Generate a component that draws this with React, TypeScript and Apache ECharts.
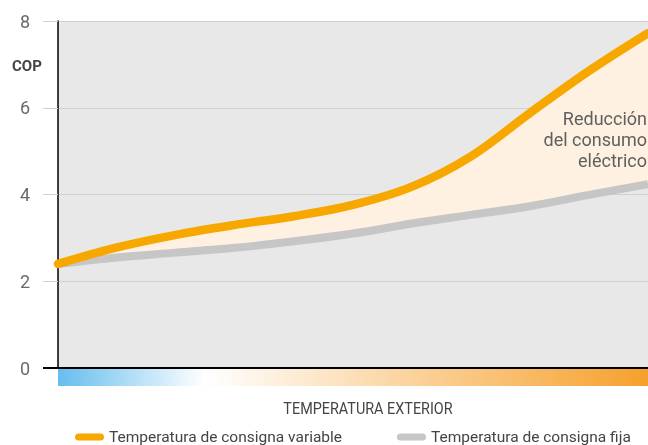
import React, { useEffect, useRef } from "react";
import * as echarts from "echarts";

// outdoor temperature steps (unlabelled, evenly spaced along the axis)
const tempSteps = ["T0", "T1", "T2", "T3", "T4", "T5", "T6", "T7", "T8", "T9", "T10"];
const variableCOP = [2.4, 2.78, 3.07, 3.3, 3.5, 3.76, 4.18, 4.88, 5.88, 6.85, 7.72];
const fixedCOP = [2.4, 2.55, 2.66, 2.77, 2.92, 3.1, 3.33, 3.53, 3.73, 3.99, 4.24];
const yTicks = { min: 0, max: 8, interval: 2 };
const seriesNames = ["Temperatura de consigna variable", "Temperatura de consigna fija"];
const yTitle = "COP";
const xTitle = "TEMPERATURA EXTERIOR";
const annotation = "Reducción\ndel consumo\neléctrico";

const FONT = "Roboto, 'Noto Sans', sans-serif";
const pill = "path://M3.5,0 H25.5 A3.5,3.5 0 0 1 25.5,7 H3.5 A3.5,3.5 0 0 1 3.5,0 Z";
const SMOOTH = 0.35;

export default function App() {
  const ref = useRef<HTMLDivElement>(null);
  useEffect(() => {
    if (!ref.current) return;
    const chart = echarts.init(ref.current, undefined, { renderer: "svg" });
    const diff = variableCOP.map((v, i) => Math.max(0, v - fixedCOP[i]));
    const legendBase = {
      top: 429,
      padding: 0,
      itemWidth: 29,
      itemHeight: 7,
      itemGap: 5,
      icon: pill,
      textStyle: { color: "#444", fontSize: 15.5, fontFamily: FONT },
    };
    chart.setOption({
      animation: false,
      textStyle: { fontFamily: FONT },
      grid: {
        left: 58,
        right: 0,
        top: 21,
        bottom: 77,
        show: true,
        backgroundColor: "#e8e8e8",
        borderWidth: 0,
      },
      xAxis: {
        type: "category",
        data: tempSteps,
        boundaryGap: false,
        axisLine: { show: true, lineStyle: { color: "#000", width: 2 } },
        axisTick: { show: false },
        axisLabel: { show: false },
        splitLine: { show: false },
      },
      yAxis: {
        type: "value",
        min: yTicks.min,
        max: yTicks.max,
        interval: yTicks.interval,
        axisLine: { show: true, lineStyle: { color: "#000", width: 1.5 } },
        axisTick: { show: true, length: 15, lineStyle: { color: "#d0d0d0", width: 1 } },
        axisLabel: { color: "#6a6a6a", fontSize: 18, margin: 28, fontFamily: FONT },
        splitLine: { show: true, lineStyle: { color: "#d0d0d0", width: 1 } },
      },
      legend: [
        { ...legendBase, data: [seriesNames[0]], left: 75 },
        { ...legendBase, data: [seriesNames[1]], left: 397 },
      ],
      series: [
        {
          name: "base",
          type: "line",
          data: fixedCOP,
          stack: "fill",
          smooth: SMOOTH,
          symbol: "none",
          lineStyle: { width: 0, opacity: 0 },
          silent: true,
          z: 1,
        },
        {
          name: "diff",
          type: "line",
          data: diff,
          stack: "fill",
          smooth: SMOOTH,
          symbol: "none",
          lineStyle: { width: 0, opacity: 0 },
          areaStyle: { color: "#fef1e1", opacity: 1 },
          silent: true,
          z: 1,
        },
        {
          name: seriesNames[1],
          type: "line",
          data: fixedCOP,
          smooth: SMOOTH,
          symbol: "none",
          color: "#c6c6c6",
          itemStyle: { color: "#c6c6c6" },
          lineStyle: { color: "#c6c6c6", width: 8 },
          z: 3,
        },
        {
          name: seriesNames[0],
          type: "line",
          data: variableCOP,
          smooth: SMOOTH,
          symbol: "none",
          color: "#f6a800",
          itemStyle: { color: "#f6a800" },
          lineStyle: { color: "#f6a800", width: 8.5, cap: "round" },
          z: 4,
        },
      ],
      graphic: [
        {
          type: "line",
          shape: { x1: 43, y1: 368, x2: 58, y2: 368 },
          style: { stroke: "#000", lineWidth: 2 },
          z: 10,
        },
        {
          type: "rect",
          shape: { x: 58, y: 369, width: 590, height: 17 },
          style: {
            fill: new echarts.graphic.LinearGradient(0, 0, 1, 0, [
              { offset: 0, color: "#66bdee" },
              { offset: 0.25, color: "#ffffff" },
              { offset: 1, color: "#f6a02c" },
            ]),
          },
          z: 10,
        },
        {
          type: "text",
          left: 12,
          top: 58,
          style: { text: yTitle, fill: "#444", fontSize: 15, fontWeight: "bold", fontFamily: FONT },
        },
        {
          type: "text",
          x: 368,
          y: 409,
          scaleX: 0.9,
          style: {
            text: xTitle,
            fill: "#444",
            fontSize: 16,
            fontFamily: FONT,
            textAlign: "center",
            textVerticalAlign: "middle",
          },
        },
        {
          type: "text",
          x: 647,
          y: 108,
          style: {
            text: annotation,
            fill: "#5f5f5f",
            fontSize: 18,
            lineHeight: 21,
            fontFamily: FONT,
            textAlign: "right",
          },
          z: 10,
        },
      ],
    });
    return () => chart.dispose();
  }, []);
  return (
    <div
      ref={ref}
      style={{ position: "fixed", left: 0, top: 0, width: 648, height: 445 }}
    />
  );
}
